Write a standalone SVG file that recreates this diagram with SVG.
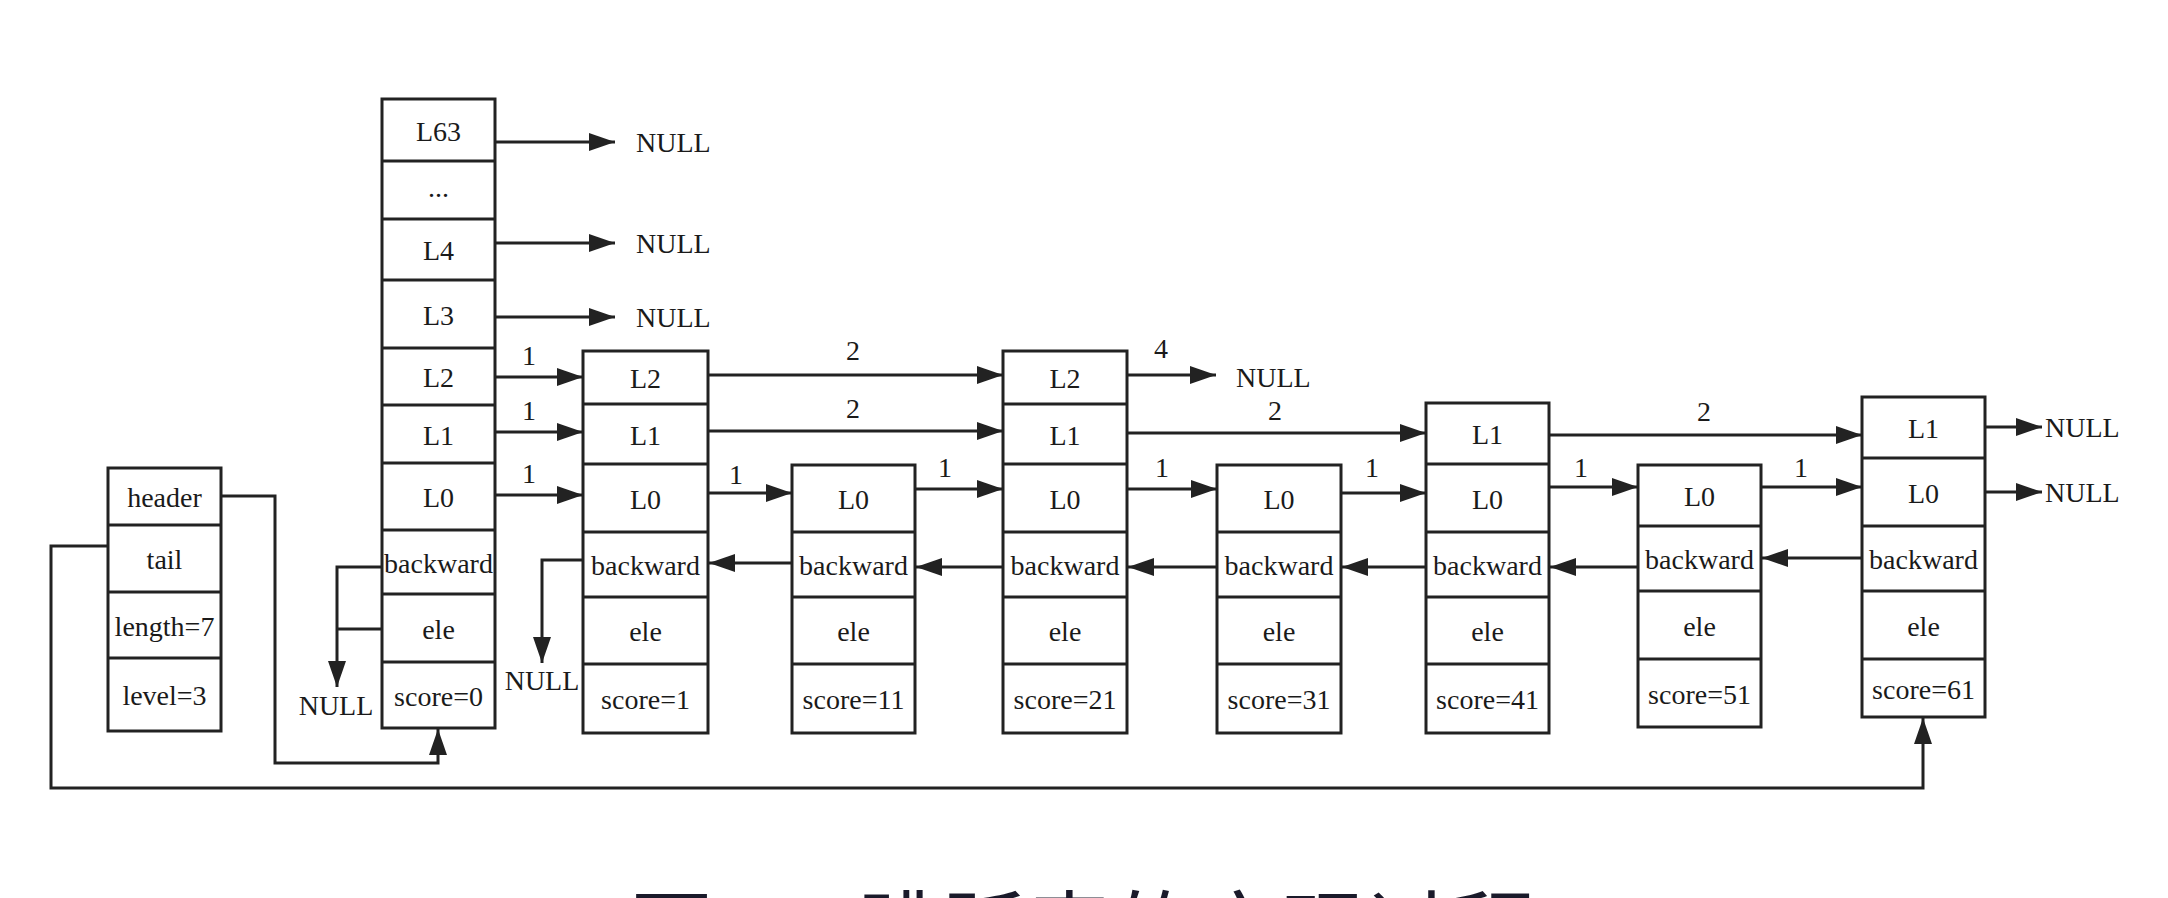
<svg xmlns="http://www.w3.org/2000/svg" width="2168" height="898" viewBox="0 0 2168 898">
<style>
  .box{fill:#fff;stroke:#222;stroke-width:3}
  .sep{stroke:#222;stroke-width:3}
  text{font-family:"Liberation Serif","Times New Roman",serif;font-size:28px;fill:#1a1a1a}
  .c{text-anchor:middle}
  .ln{fill:none;stroke:#222;stroke-width:3}
  .cap{font-family:"Noto Sans CJK SC","Noto Sans",sans-serif;font-size:85px;fill:#1a1a2a}
</style>
<defs>
  <marker id="ah" markerUnits="userSpaceOnUse" markerWidth="26" markerHeight="18" refX="26" refY="9" orient="auto">
    <path d="M0,0 L26,9 L0,18 z" fill="#222"/>
  </marker>
</defs>
<rect width="2168" height="898" fill="#fff"/>

<g id="list-node">
  <rect class="box" x="108" y="468" width="113" height="263"/>
  <line class="sep" x1="108" y1="525" x2="221" y2="525"/>
  <line class="sep" x1="108" y1="592" x2="221" y2="592"/>
  <line class="sep" x1="108" y1="658" x2="221" y2="658"/>
  <text class="c" x="164.5" y="507">header</text>
  <text class="c" x="164.5" y="569">tail</text>
  <text class="c" x="164.5" y="636">length=7</text>
  <text class="c" x="164.5" y="705">level=3</text>
</g>

<g id="header-node">
  <rect class="box" x="382" y="99" width="113" height="629"/>
  <line class="sep" x1="382" y1="161" x2="495" y2="161"/>
  <line class="sep" x1="382" y1="219" x2="495" y2="219"/>
  <line class="sep" x1="382" y1="280" x2="495" y2="280"/>
  <line class="sep" x1="382" y1="348" x2="495" y2="348"/>
  <line class="sep" x1="382" y1="405" x2="495" y2="405"/>
  <line class="sep" x1="382" y1="463" x2="495" y2="463"/>
  <line class="sep" x1="382" y1="530" x2="495" y2="530"/>
  <line class="sep" x1="382" y1="594" x2="495" y2="594"/>
  <line class="sep" x1="382" y1="662" x2="495" y2="662"/>
  <text class="c" x="438.5" y="141">L63</text>
  <text class="c" x="438.5" y="197">...</text>
  <text class="c" x="438.5" y="260">L4</text>
  <text class="c" x="438.5" y="325">L3</text>
  <text class="c" x="438.5" y="387">L2</text>
  <text class="c" x="438.5" y="445">L1</text>
  <text class="c" x="438.5" y="507">L0</text>
  <text class="c" x="438.5" y="573">backward</text>
  <text class="c" x="438.5" y="639">ele</text>
  <text class="c" x="438.5" y="706">score=0</text>
</g>

<g id="node-1">
  <rect class="box" x="583" y="351" width="125" height="382"/>
  <line class="sep" x1="583" y1="404" x2="708" y2="404"/>
  <line class="sep" x1="583" y1="464" x2="708" y2="464"/>
  <line class="sep" x1="583" y1="532" x2="708" y2="532"/>
  <line class="sep" x1="583" y1="597" x2="708" y2="597"/>
  <line class="sep" x1="583" y1="664" x2="708" y2="664"/>
  <text class="c" x="645.5" y="388">L2</text>
  <text class="c" x="645.5" y="445">L1</text>
  <text class="c" x="645.5" y="509">L0</text>
  <text class="c" x="645.5" y="575">backward</text>
  <text class="c" x="645.5" y="641">ele</text>
  <text class="c" x="645.5" y="709">score=1</text>
</g>

<g id="node-11">
  <rect class="box" x="792" y="465" width="123" height="268"/>
  <line class="sep" x1="792" y1="532" x2="915" y2="532"/>
  <line class="sep" x1="792" y1="597" x2="915" y2="597"/>
  <line class="sep" x1="792" y1="664" x2="915" y2="664"/>
  <text class="c" x="853.5" y="509">L0</text>
  <text class="c" x="853.5" y="575">backward</text>
  <text class="c" x="853.5" y="641">ele</text>
  <text class="c" x="853.5" y="709">score=11</text>
</g>

<g id="node-21">
  <rect class="box" x="1003" y="351" width="124" height="382"/>
  <line class="sep" x1="1003" y1="404" x2="1127" y2="404"/>
  <line class="sep" x1="1003" y1="464" x2="1127" y2="464"/>
  <line class="sep" x1="1003" y1="532" x2="1127" y2="532"/>
  <line class="sep" x1="1003" y1="597" x2="1127" y2="597"/>
  <line class="sep" x1="1003" y1="664" x2="1127" y2="664"/>
  <text class="c" x="1065" y="388">L2</text>
  <text class="c" x="1065" y="445">L1</text>
  <text class="c" x="1065" y="509">L0</text>
  <text class="c" x="1065" y="575">backward</text>
  <text class="c" x="1065" y="641">ele</text>
  <text class="c" x="1065" y="709">score=21</text>
</g>

<g id="node-31">
  <rect class="box" x="1217" y="465" width="124" height="268"/>
  <line class="sep" x1="1217" y1="532" x2="1341" y2="532"/>
  <line class="sep" x1="1217" y1="597" x2="1341" y2="597"/>
  <line class="sep" x1="1217" y1="664" x2="1341" y2="664"/>
  <text class="c" x="1279" y="509">L0</text>
  <text class="c" x="1279" y="575">backward</text>
  <text class="c" x="1279" y="641">ele</text>
  <text class="c" x="1279" y="709">score=31</text>
</g>

<g id="node-41">
  <rect class="box" x="1426" y="403" width="123" height="330"/>
  <line class="sep" x1="1426" y1="464" x2="1549" y2="464"/>
  <line class="sep" x1="1426" y1="532" x2="1549" y2="532"/>
  <line class="sep" x1="1426" y1="597" x2="1549" y2="597"/>
  <line class="sep" x1="1426" y1="664" x2="1549" y2="664"/>
  <text class="c" x="1487.5" y="444">L1</text>
  <text class="c" x="1487.5" y="509">L0</text>
  <text class="c" x="1487.5" y="575">backward</text>
  <text class="c" x="1487.5" y="641">ele</text>
  <text class="c" x="1487.5" y="709">score=41</text>
</g>

<g id="node-51">
  <rect class="box" x="1638" y="465" width="123" height="262"/>
  <line class="sep" x1="1638" y1="526" x2="1761" y2="526"/>
  <line class="sep" x1="1638" y1="591" x2="1761" y2="591"/>
  <line class="sep" x1="1638" y1="659" x2="1761" y2="659"/>
  <text class="c" x="1699.5" y="506">L0</text>
  <text class="c" x="1699.5" y="569">backward</text>
  <text class="c" x="1699.5" y="636">ele</text>
  <text class="c" x="1699.5" y="704">score=51</text>
</g>

<g id="node-61">
  <rect class="box" x="1862" y="397" width="123" height="320"/>
  <line class="sep" x1="1862" y1="458" x2="1985" y2="458"/>
  <line class="sep" x1="1862" y1="526" x2="1985" y2="526"/>
  <line class="sep" x1="1862" y1="591" x2="1985" y2="591"/>
  <line class="sep" x1="1862" y1="659" x2="1985" y2="659"/>
  <text class="c" x="1923.5" y="438">L1</text>
  <text class="c" x="1923.5" y="503">L0</text>
  <text class="c" x="1923.5" y="569">backward</text>
  <text class="c" x="1923.5" y="636">ele</text>
  <text class="c" x="1923.5" y="699">score=61</text>
</g>

<g id="connectors">
  <!-- header node to NULL -->
  <line class="ln" x1="495" y1="142" x2="615" y2="142" marker-end="url(#ah)"/>
  <line class="ln" x1="495" y1="243" x2="615" y2="243" marker-end="url(#ah)"/>
  <line class="ln" x1="495" y1="317" x2="615" y2="317" marker-end="url(#ah)"/>
  <!-- header node to node 1 -->
  <line class="ln" x1="495" y1="377" x2="583" y2="377" marker-end="url(#ah)"/>
  <line class="ln" x1="495" y1="432" x2="583" y2="432" marker-end="url(#ah)"/>
  <line class="ln" x1="495" y1="495" x2="583" y2="495" marker-end="url(#ah)"/>
  <!-- level 2 -->
  <line class="ln" x1="708" y1="375" x2="1003" y2="375" marker-end="url(#ah)"/>
  <line class="ln" x1="1127" y1="375" x2="1216" y2="375" marker-end="url(#ah)"/>
  <!-- level 1 -->
  <line class="ln" x1="708" y1="431" x2="1003" y2="431" marker-end="url(#ah)"/>
  <line class="ln" x1="1127" y1="433" x2="1426" y2="433" marker-end="url(#ah)"/>
  <line class="ln" x1="1549" y1="435" x2="1862" y2="435" marker-end="url(#ah)"/>
  <line class="ln" x1="1985" y1="427" x2="2042" y2="427" marker-end="url(#ah)"/>
  <!-- level 0 -->
  <line class="ln" x1="708" y1="493" x2="792" y2="493" marker-end="url(#ah)"/>
  <line class="ln" x1="915" y1="489" x2="1003" y2="489" marker-end="url(#ah)"/>
  <line class="ln" x1="1127" y1="489" x2="1217" y2="489" marker-end="url(#ah)"/>
  <line class="ln" x1="1341" y1="493" x2="1426" y2="493" marker-end="url(#ah)"/>
  <line class="ln" x1="1549" y1="487" x2="1638" y2="487" marker-end="url(#ah)"/>
  <line class="ln" x1="1761" y1="487" x2="1862" y2="487" marker-end="url(#ah)"/>
  <line class="ln" x1="1985" y1="492" x2="2042" y2="492" marker-end="url(#ah)"/>
  <!-- backward -->
  <line class="ln" x1="792" y1="563" x2="709" y2="563" marker-end="url(#ah)"/>
  <line class="ln" x1="1003" y1="567" x2="916" y2="567" marker-end="url(#ah)"/>
  <line class="ln" x1="1217" y1="567" x2="1128" y2="567" marker-end="url(#ah)"/>
  <line class="ln" x1="1426" y1="567" x2="1342" y2="567" marker-end="url(#ah)"/>
  <line class="ln" x1="1638" y1="567" x2="1550" y2="567" marker-end="url(#ah)"/>
  <line class="ln" x1="1862" y1="558" x2="1762" y2="558" marker-end="url(#ah)"/>
  <polyline class="ln" points="382,567 337,567 337,687" marker-end="url(#ah)"/>
  <line class="ln" x1="382" y1="629" x2="337" y2="629"/>
  <polyline class="ln" points="583,560 542,560 542,663" marker-end="url(#ah)"/>
  <!-- list header / tail -->
  <polyline class="ln" points="221,496 275,496 275,763 438,763 438,729" marker-end="url(#ah)"/>
  <polyline class="ln" points="108,546 51,546 51,788 1923,788 1923,718" marker-end="url(#ah)"/>
  <!-- span labels -->
  <text class="c" x="529" y="365">1</text>
  <text class="c" x="529" y="420">1</text>
  <text class="c" x="529" y="483">1</text>
  <text class="c" x="853" y="360">2</text>
  <text class="c" x="853" y="418">2</text>
  <text class="c" x="736" y="484">1</text>
  <text class="c" x="945" y="477">1</text>
  <text class="c" x="1161" y="358">4</text>
  <text class="c" x="1275" y="420">2</text>
  <text class="c" x="1162" y="477">1</text>
  <text class="c" x="1372" y="477">1</text>
  <text class="c" x="1704" y="421">2</text>
  <text class="c" x="1581" y="477">1</text>
  <text class="c" x="1801" y="477">1</text>
  <!-- NULL labels -->
  <text x="636" y="152">NULL</text>
  <text x="636" y="253">NULL</text>
  <text x="636" y="327">NULL</text>
  <text x="1236" y="387">NULL</text>
  <text x="2045" y="437">NULL</text>
  <text x="2045" y="502">NULL</text>
  <text class="c" x="336" y="715">NULL</text>
  <text class="c" x="542" y="690">NULL</text>
</g>

<text class="cap" x="629" y="962">图3-3 跳跃表的实现过程</text>
</svg>
